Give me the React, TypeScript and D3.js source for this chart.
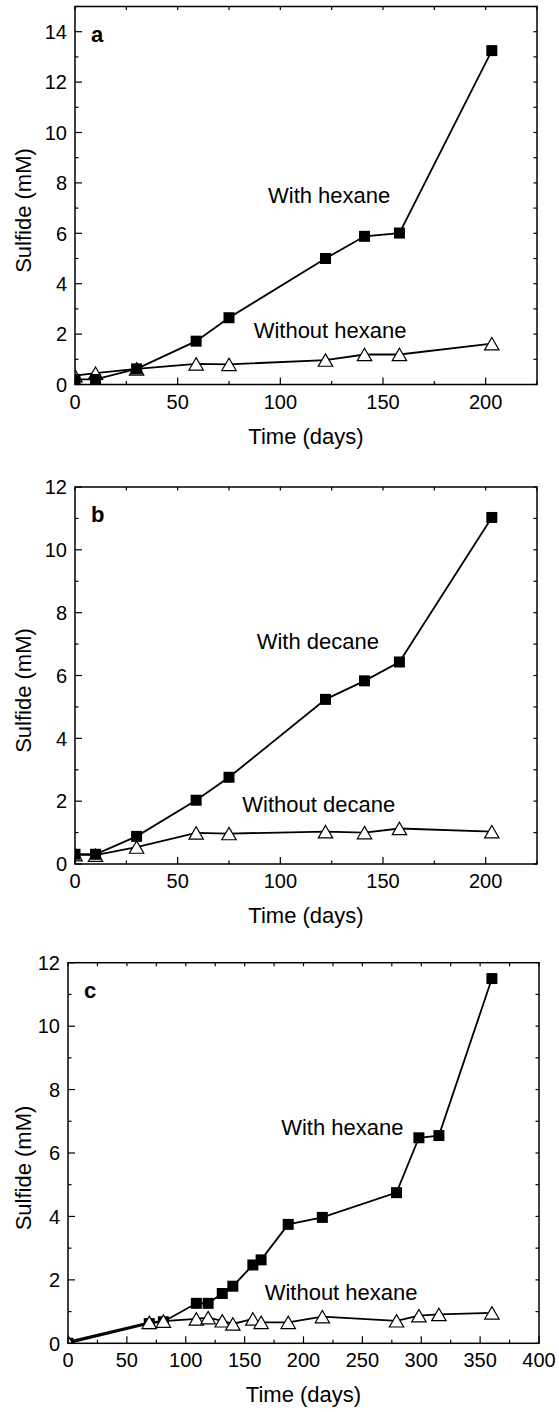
import React from 'react';
import * as d3 from 'd3';

// panel a: sulfide with / without hexane
const daysA = [0, 10, 30, 59, 75, 122, 141, 158, 203];
const withHexaneA = [0.2, 0.2, 0.62, 1.72, 2.65, 5.0, 5.88, 6.01, 13.25];
const withoutHexaneA = [0.35, 0.45, 0.62, 0.82, 0.8, 0.97, 1.19, 1.19, 1.62];

// panel b: sulfide with / without decane
const daysB = [0, 10, 30, 59, 75, 122, 141, 158, 203];
const withDecaneB = [0.31, 0.31, 0.88, 2.03, 2.76, 5.24, 5.83, 6.43, 11.03];
const withoutDecaneB = [0.3, 0.28, 0.54, 0.99, 0.97, 1.03, 1.0, 1.13, 1.03];

// panel c: longer hexane run
const daysC = [0, 69, 81, 109, 119, 131, 140, 157, 164, 187, 216, 279, 298, 315, 360];
const withHexaneC = [0, 0.62, 0.68, 1.26, 1.26, 1.57, 1.8, 2.47, 2.63, 3.75, 3.97, 4.75, 6.48, 6.55, 11.5];
const withoutHexaneC = [0.05, 0.66, 0.7, 0.77, 0.81, 0.71, 0.61, 0.77, 0.66, 0.66, 0.84, 0.71, 0.87, 0.91, 0.96];

// tick labels
const xTicks225 = [0, 50, 100, 150, 200];
const xTicks400 = [0, 50, 100, 150, 200, 250, 300, 350, 400];
const yTicks14 = [0, 2, 4, 6, 8, 10, 12, 14];
const yTicks12 = [0, 2, 4, 6, 8, 10, 12];

const FONT = 'Liberation Sans, Arial, Helvetica, sans-serif';

type Series = { days: number[]; values: number[]; marker: 'square' | 'triangle' };
type Note = { text: string; day: number; value: number };

const zip = (xs: number[], ys: number[]): [number, number][] => xs.map((d, i) => [d, ys[i]]);

function Panel(props: {
  id: string;
  left: number; right: number; top: number; bottom: number;
  xMax: number; yMax: number;
  xTicks: number[]; yTicks: number[];
  letter: string;
  series: Series[];
  notes: Note[];
}) {
  const { id, left, right, top, bottom, xMax, yMax, xTicks, yTicks, letter, series, notes } = props;
  const x = d3.scaleLinear().domain([0, xMax]).range([left, right]);
  const y = d3.scaleLinear().domain([0, yMax]).range([bottom, top]);
  const line = d3.line<[number, number]>().x(d => x(d[0])).y(d => y(d[1]));

  const xMinor = d3.range(0, xMax + 0.01, 25);
  const yMinor = d3.range(0, yMax + 0.01, 1);
  const major = 7, minor = 3.5;

  const tri = 'M0,-6.2L7.2,6.2L-7.2,6.2Z';

  return (
    <g>
      <defs>
        <clipPath id={id}>
          <rect x={left} y={top} width={right - left} height={bottom - top} />
        </clipPath>
      </defs>

      <g clipPath={`url(#${id})`}>
        {series.map((s, i) => {
          const pts = zip(s.days, s.values);
          return (
            <g key={i}>
              <path d={line(pts) || ''} fill="none" stroke="#000" strokeWidth={1.8} />
              {pts.map((p, j) =>
                s.marker === 'square' ? (
                  <rect key={j} x={x(p[0]) - 5.5} y={y(p[1]) - 5.5} width={11} height={11} fill="#000" />
                ) : (
                  <path key={j} d={tri} transform={`translate(${x(p[0])},${y(p[1])})`}
                    fill="#fff" stroke="#000" strokeWidth={1.2} />
                )
              )}
            </g>
          );
        })}
      </g>

      {/* frame */}
      <rect x={left} y={top} width={right - left} height={bottom - top} fill="none" stroke="#000" strokeWidth={1.5} />

      {/* x ticks */}
      {xMinor.map(t => {
        const isMajor = xTicks.includes(t);
        return (
          <g key={'x' + t}>
            <line x1={x(t)} x2={x(t)} y1={bottom} y2={bottom - (isMajor ? major : minor)} stroke="#000" strokeWidth={1.2} />
            <line x1={x(t)} x2={x(t)} y1={top} y2={top + minor} stroke="#000" strokeWidth={1.2} />
          </g>
        );
      })}
      {xTicks.map(t => (
        <text key={'xl' + t} x={x(t)} y={bottom + 24} textAnchor="middle" fontSize={20} fontFamily={FONT}>{t}</text>
      ))}

      {/* y ticks */}
      {yMinor.map(t => {
        const isMajor = yTicks.includes(t);
        return (
          <g key={'y' + t}>
            <line x1={left} x2={left + (isMajor ? major : minor)} y1={y(t)} y2={y(t)} stroke="#000" strokeWidth={1.2} />
            <line x1={right} x2={right - minor} y1={y(t)} y2={y(t)} stroke="#000" strokeWidth={1.2} />
          </g>
        );
      })}
      {yTicks.map(t => (
        <text key={'yl' + t} x={left - 8} y={y(t)} dy="0.36em" textAnchor="end" fontSize={20} fontFamily={FONT}>{t}</text>
      ))}

      {/* titles */}
      <text x={(left + right) / 2} y={bottom + 59} textAnchor="middle" fontSize={22} fontFamily={FONT}>Time (days)</text>
      <text transform={`translate(31,${(top + bottom) / 2 + 15}) rotate(-90)`} textAnchor="middle" fontSize={22} fontFamily={FONT}>Sulfide (mM)</text>

      <text x={left + 16} y={top + 35} fontSize={22} fontWeight="bold" fontFamily={FONT}>{letter}</text>

      {notes.map((n, i) => (
        <text key={'n' + i} x={x(n.day)} y={y(n.value)} fontSize={22} fontFamily={FONT}>{n.text}</text>
      ))}
    </g>
  );
}

export default function App() {
  return (
    <svg width={559} height={1412} style={{ position: 'absolute', left: 0, top: 0, background: '#fff' }}>
      <rect width={559} height={1412} fill="#fff" />
      <Panel
        id="clipA" left={75} right={537} top={6.5} bottom={384.5}
        xMax={225} yMax={15} xTicks={xTicks225} yTicks={yTicks14} letter="a"
        series={[
          { days: daysA, values: withoutHexaneA, marker: 'triangle' },
          { days: daysA, values: withHexaneA, marker: 'square' },
        ]}
        notes={[
          { text: 'With hexane', day: 94, value: 7.2 },
          { text: 'Without hexane', day: 87, value: 1.85 },
        ]}
      />
      <Panel
        id="clipB" left={75} right={537} top={487} bottom={864}
        xMax={225} yMax={12} xTicks={xTicks225} yTicks={yTicks12} letter="b"
        series={[
          { days: daysB, values: withoutDecaneB, marker: 'triangle' },
          { days: daysB, values: withDecaneB, marker: 'square' },
        ]}
        notes={[
          { text: 'With decane', day: 88.5, value: 6.84 },
          { text: 'Without decane', day: 81.5, value: 1.66 },
        ]}
      />
      <Panel
        id="clipC" left={68} right={539} top={962.7} bottom={1343.3}
        xMax={400} yMax={12} xTicks={xTicks400} yTicks={yTicks12} letter="c"
        series={[
          { days: daysC, values: withHexaneC, marker: 'square' },
          { days: daysC, values: withoutHexaneC, marker: 'triangle' },
        ]}
        notes={[
          { text: 'With hexane', day: 181, value: 6.57 },
          { text: 'Without hexane', day: 167, value: 1.37 },
        ]}
      />
    </svg>
  );
}
